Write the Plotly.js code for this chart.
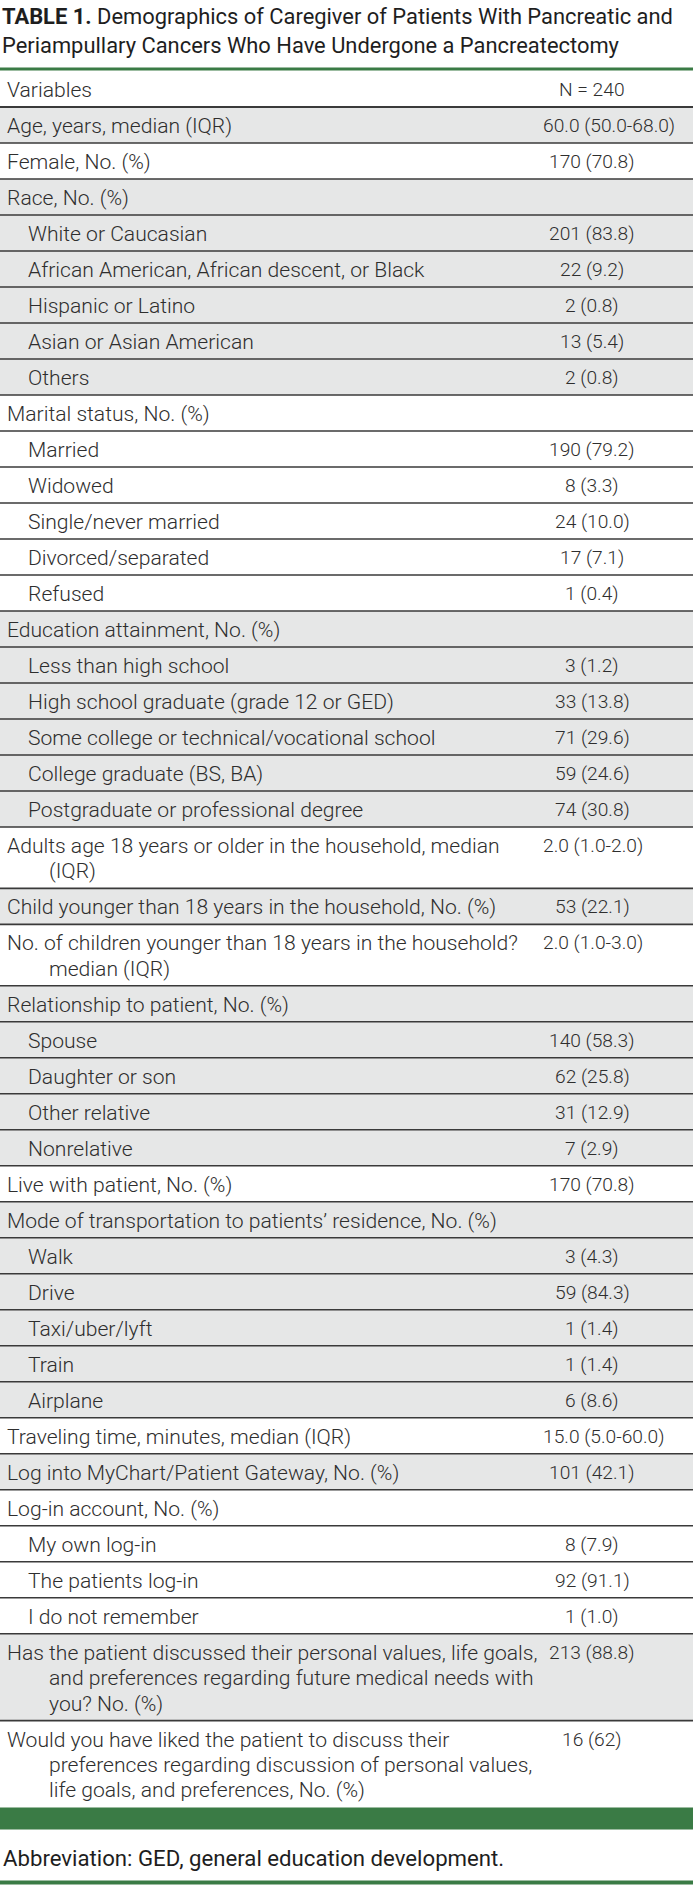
<!DOCTYPE html>
<html>
<head>
<meta charset="utf-8">
<script src="https://cdn.plot.ly/plotly-3.0.1.min.js"></script>
<style>
  html, body { margin: 0; padding: 0; background: #ffffff; }
  #chart { width: 693px; height: 1886px; }
</style>
</head>
<body>
<div id="chart"></div>
<script>
// ---------------- DATA ----------------
const titleBold = "TABLE 1.";
const titleLines = [
  " Demographics of Caregiver of Patients With Pancreatic and",
  "Periampullary Cancers Who Have Undergone a Pancreatectomy"
];
const headerLabel = "Variables";
const headerValue = "N = 240";

// each label: lines as they wrap in the table
const labels = [
  ["Age, years, median (IQR)"],
  ["Female, No. (%)"],
  ["Race, No. (%)"],
  ["White or Caucasian"],
  ["African American, African descent, or Black"],
  ["Hispanic or Latino"],
  ["Asian or Asian American"],
  ["Others"],
  ["Marital status, No. (%)"],
  ["Married"],
  ["Widowed"],
  ["Single/never married"],
  ["Divorced/separated"],
  ["Refused"],
  ["Education attainment, No. (%)"],
  ["Less than high school"],
  ["High school graduate (grade 12 or GED)"],
  ["Some college or technical/vocational school"],
  ["College graduate (BS, BA)"],
  ["Postgraduate or professional degree"],
  ["Adults age 18 years or older in the household, median", "(IQR)"],
  ["Child younger than 18 years in the household, No. (%)"],
  ["No. of children younger than 18 years in the household?", "median (IQR)"],
  ["Relationship to patient, No. (%)"],
  ["Spouse"],
  ["Daughter or son"],
  ["Other relative"],
  ["Nonrelative"],
  ["Live with patient, No. (%)"],
  ["Mode of transportation to patients\u2019 residence, No. (%)"],
  ["Walk"],
  ["Drive"],
  ["Taxi/uber/lyft"],
  ["Train"],
  ["Airplane"],
  ["Traveling time, minutes, median (IQR)"],
  ["Log into MyChart/Patient Gateway, No. (%)"],
  ["Log-in account, No. (%)"],
  ["My own log-in"],
  ["The patients log-in"],
  ["I do not remember"],
  ["Has the patient discussed their personal values, life goals,", "and preferences regarding future medical needs with", "you? No. (%)"],
  ["Would you have liked the patient to discuss their", "preferences regarding discussion of personal values,", "life goals, and preferences, No. (%)"]
];

const values = [
  "60.0 (50.0-68.0)", "170 (70.8)", "",
  "201 (83.8)", "22 (9.2)", "2 (0.8)", "13 (5.4)", "2 (0.8)",
  "",
  "190 (79.2)", "8 (3.3)", "24 (10.0)", "17 (7.1)", "1 (0.4)",
  "",
  "3 (1.2)", "33 (13.8)", "71 (29.6)", "59 (24.6)", "74 (30.8)",
  "2.0 (1.0-2.0)", "53 (22.1)", "2.0 (1.0-3.0)",
  "",
  "140 (58.3)", "62 (25.8)", "31 (12.9)", "7 (2.9)",
  "170 (70.8)",
  "",
  "3 (4.3)", "59 (84.3)", "1 (1.4)", "1 (1.4)", "6 (8.6)",
  "15.0 (5.0-60.0)", "101 (42.1)",
  "",
  "8 (7.9)", "92 (91.1)", "1 (1.0)",
  "213 (88.8)", "16 (62)"
];

// 1 = sub-item (indented)
const indentLevel = [
  0,0,0,1,1,1,1,1,0,1,1,1,1,1,0,1,1,1,1,1,
  0,0,0,0,1,1,1,1,0,0,1,1,1,1,1,0,0,0,1,1,1,0,0
];

// 1 = gray band
const shaded = [
  1,0,1,1,1,1,1,1,0,0,0,0,0,0,1,1,1,1,1,1,
  0,1,0,1,1,1,1,1,0,1,1,1,1,1,1,0,1,0,0,0,0,1,0
];

const footnote = "Abbreviation: GED, general education development.";

// ---------------- STYLE / LAYOUT ----------------
const W = 693, H = 1886;
const GREEN = "#3a7b45";
const GRAY = "#e6e7e7";
const RULE = "#3a3a3a";
const TXT = "#2e2e2e";
const FONT = "Roboto";
const FS = 21.1;     // label text
const FSV = 19.2;    // value text
const FST = 21.9;    // title

const tableTop = 70;
const headerBottom = 107;
const baseRow = 36.0;
const extraLine = 25.4;
const xText = 5;
const xSub = 26;
const xHang = 47;
const xVal = 592;
const xValMin = 543;

// text width helper (for the value column alignment)
const cv = document.createElement("canvas").getContext("2d");
function textWidth(s, size, weight) {
  cv.font = weight + " " + size + "px " + FONT;
  return cv.measureText(s).width;
}

const shapes = [];
const annotations = [];

function txt(x, y, text, anchor, opts) {
  opts = opts || {};
  annotations.push({
    x: x, y: y, xref: "x", yref: "y",
    text: text, showarrow: false,
    xanchor: anchor, yanchor: "middle",
    align: anchor === "center" ? "center" : "left",
    font: { family: opts.family || FONT, size: opts.size || FS, color: opts.color || TXT, weight: opts.weight || 300 }
  });
}
function valTxt(y, s) {
  const w = textWidth(s, FSV, 300);
  const cx = Math.max(xVal, xValMin + w / 2);
  txt(cx, y, s, "center", { size: FSV });
}

// Title
txt(0, 16, "<b>" + titleBold + "</b>" + titleLines[0], "left", { size: FST, weight: 400, color: "#1e1e1e" });
txt(0, 45, titleLines[1], "left", { size: FST, weight: 400, color: "#1e1e1e" });

// Header
txt(xText, (tableTop + headerBottom) / 2 + 1, headerLabel, "left");
txt(xVal, (tableTop + headerBottom) / 2 + 1, headerValue, "center", { size: FSV });

// Rows
let y = headerBottom;
const bounds = [headerBottom];
labels.forEach((lines, i) => {
  const h = baseRow + extraLine * (lines.length - 1);
  if (shaded[i]) {
    shapes.push({ type: "rect", xref: "x", yref: "y", x0: 0, x1: W, y0: y, y1: y + h,
      fillcolor: GRAY, line: { width: 0 }, layer: "below" });
  }
  const firstY = lines.length === 1 ? y + h / 2 + 0.5 : y + 18.5;
  lines.forEach((ln, k) => {
    const x = k === 0 ? (indentLevel[i] ? xSub : xText) : xHang;
    txt(x, firstY + k * extraLine, ln, "left");
  });
  if (values[i]) valTxt(firstY, values[i]);
  y += h;
  bounds.push(y);
});
const tableBottom = y;

// Row rules
bounds.forEach((b, i) => {
  if (i === bounds.length - 1) return;
  shapes.push({ type: "line", xref: "x", yref: "y", x0: 0, x1: W, y0: b, y1: b,
    line: { color: RULE, width: i === 0 ? 2 : 1.6 }, layer: "above" });
});

// Green rules
shapes.push({ type: "line", xref: "x", yref: "y", x0: 0, x1: W, y0: tableTop - 1, y1: tableTop - 1,
  line: { color: GREEN, width: 3 } });
shapes.push({ type: "rect", xref: "x", yref: "y", x0: 0, x1: W, y0: tableBottom, y1: tableBottom + 22,
  fillcolor: GREEN, line: { width: 0 } });
shapes.push({ type: "line", xref: "x", yref: "y", x0: 0, x1: W, y0: 1882.5, y1: 1882.5,
  line: { color: GREEN, width: 4 } });

// Footnote
txt(1, 1858, footnote, "left", { size: 22.2, weight: 400, color: "#1e1e1e" });

const layout = {
  width: W, height: H,
  margin: { l: 0, r: 0, t: 0, b: 0, pad: 0 },
  paper_bgcolor: "#ffffff", plot_bgcolor: "#ffffff",
  showlegend: false,
  xaxis: { range: [0, W], visible: false, fixedrange: true },
  yaxis: { range: [H, 0], visible: false, fixedrange: true },
  shapes: shapes,
  annotations: annotations
};

Plotly.newPlot("chart", [{ x: [], y: [], type: "scatter", mode: "markers", hoverinfo: "skip" }], layout,
  { staticPlot: true, displayModeBar: false });
</script>
</body>
</html>
